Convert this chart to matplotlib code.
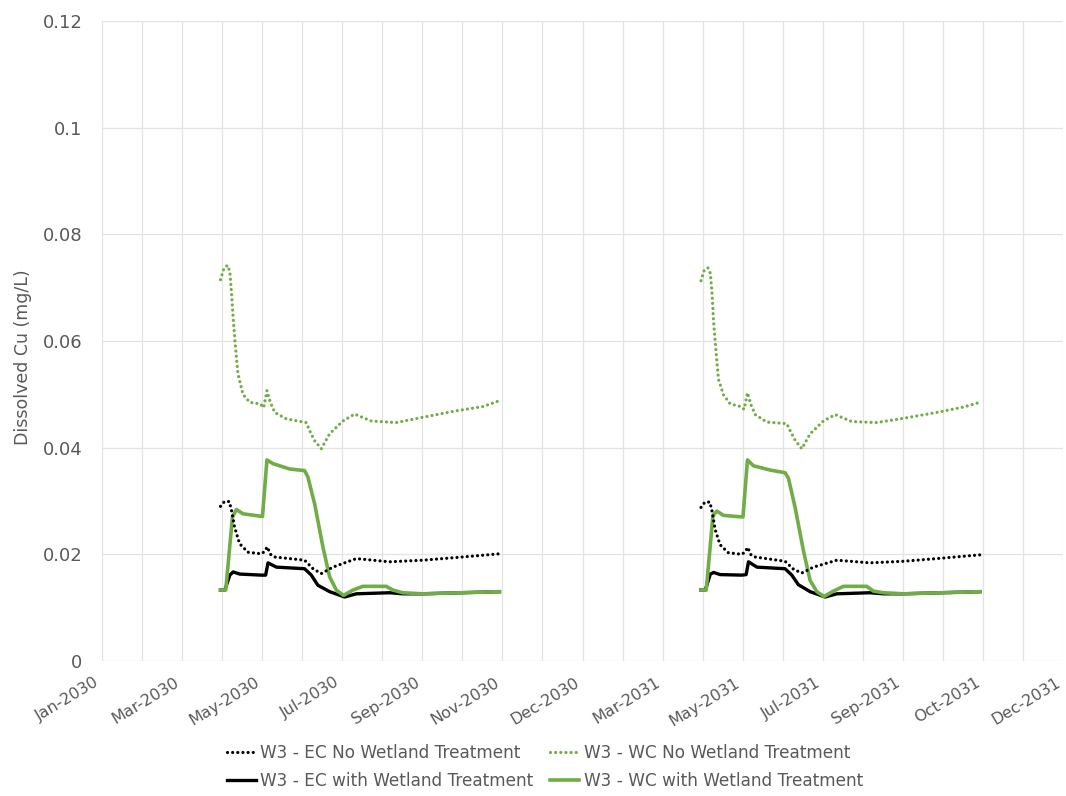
import matplotlib
matplotlib.use("Agg")
import matplotlib.pyplot as plt
from matplotlib.ticker import FixedLocator, FuncFormatter
from datetime import date
import numpy as np

# x axis: days since 1 Jan 2030, 12 equal intervals as in the Excel chart
tick_labels = ["Jan-2030", "Mar-2030", "May-2030", "Jul-2030", "Sep-2030", "Nov-2030",
               "Dec-2030", "Mar-2031", "May-2031", "Jul-2031", "Sep-2031", "Oct-2031",
               "Dec-2031"]
axis_days = 730

origin = date(2030, 1, 1)
start_2030 = (date(2030, 4, 1) - origin).days
start_2031 = (date(2031, 4, 1) - origin).days

# days after 1 April for each series, then values (mg/L) per year
ec_no_rel = [0, 3, 6.7, 8.6, 10.7, 14.5, 20.8, 30.9, 33.4, 35.5, 38, 41.2, 63.9, 70.3,
             76.6, 85.4, 103.2, 128.4, 153.7, 179, 211.9]
ec_no_2030 = [0.029, 0.0299, 0.0299, 0.028, 0.0251, 0.022, 0.0204, 0.0201, 0.0205, 0.0214,
              0.0200, 0.0195, 0.0189, 0.0173, 0.0164, 0.0176, 0.0192, 0.0186, 0.0189,
              0.0194, 0.0201]
ec_no_2031 = [0.0288, 0.0298, 0.0298, 0.0279, 0.0247, 0.0218, 0.0203, 0.0200, 0.0204, 0.0213,
              0.0199, 0.0195, 0.0187, 0.0172, 0.0165, 0.0176, 0.0189, 0.0184, 0.0187,
              0.0192, 0.0199]

wc_no_rel = [0, 2.5, 5.3, 7.1, 8.3, 9.6, 11.4, 13.3, 17.1, 22.2, 30.3, 32.8, 34, 35.3, 37.9,
             41.2, 50, 65.2, 67.7, 71.5, 76.6, 82.9, 93, 101.9, 114.5, 133.5, 153.7, 179,
             199.2, 211.9]
wc_no_2030 = [0.0715, 0.0735, 0.0742, 0.073, 0.0693, 0.0644, 0.0588, 0.0538, 0.050, 0.0485,
              0.0482, 0.0475, 0.049, 0.0507, 0.0485, 0.0466, 0.0454, 0.0447, 0.0432, 0.0413,
              0.0398, 0.0426, 0.045, 0.0463, 0.045, 0.0447, 0.0457, 0.0469, 0.0477, 0.0488]
wc_no_2031 = [0.0713, 0.0733, 0.0737, 0.0727, 0.0693, 0.0635, 0.0581, 0.0528, 0.0499, 0.0482,
              0.0477, 0.0472, 0.0487, 0.0503, 0.0481, 0.0462, 0.0448, 0.0445, 0.0432, 0.0414,
              0.0398, 0.0426, 0.045, 0.0462, 0.0449, 0.0447, 0.0455, 0.0466, 0.0476, 0.0485]

ec_with_rel = [0, 3.3, 7.1, 9.6, 14.6, 31, 34.3, 36.1, 42.5, 63.9, 69, 74, 82.9, 94.3, 103.2,
               128.4, 138.5, 153.7, 211.9]
ec_with_2030 = [0.0133, 0.0133, 0.0161, 0.0167, 0.0163, 0.0161, 0.0161, 0.0184, 0.0176, 0.0173,
                0.0161, 0.0142, 0.013, 0.012, 0.0126, 0.0128, 0.0126, 0.0126, 0.013]
ec_with_2031 = [0.0133, 0.0133, 0.0163, 0.0166, 0.0162, 0.0161, 0.0162, 0.0186, 0.0176, 0.0173,
                0.0161, 0.0143, 0.013, 0.012, 0.0126, 0.0128, 0.0126, 0.0126, 0.013]

wc_with_rel = [0, 4, 9.1, 12.1, 17.1, 31.9, 35.3, 39.9, 52.6, 63.9, 66.4, 71.5, 77.8, 82.9, 88,
               93.5, 100.6, 108.2, 125.9, 131, 138.5, 153.7, 211.9]
wc_with_2030 = [0.0133, 0.0133, 0.027, 0.0284, 0.0276, 0.0271, 0.0377, 0.037, 0.036, 0.0357,
                0.0345, 0.0295, 0.0214, 0.0158, 0.0133, 0.0123, 0.0133, 0.014, 0.014, 0.0133,
                0.0128, 0.0126, 0.013]
wc_with_2031 = [0.0133, 0.0133, 0.0273, 0.0281, 0.0273, 0.027, 0.0377, 0.0366, 0.0358, 0.0353,
                0.0343, 0.0288, 0.0207, 0.0151, 0.013, 0.0121, 0.0131, 0.014, 0.014, 0.0131,
                0.0128, 0.0126, 0.013]

GREEN = "#70AD47"
GRID = "#e3e3e3"
TXT = "#595959"

plt.rcParams["font.family"] = "DejaVu Sans"

fig = plt.figure(figsize=(10.66, 7.96), dpi=100)
ax = fig.add_axes([102 / 1066, 1 - 661 / 796, 961 / 1066, 640 / 796])


def two_years(rel, v1, v2):
    rel = np.asarray(rel)
    x = np.concatenate([start_2030 + rel, [np.nan], start_2031 + rel])
    y = np.concatenate([v1, [np.nan], v2])
    return x, y


dot = dict(linestyle=(0, (0.01, 1.6)), dash_capstyle="round", lw=2.3)

x, y = two_years(ec_with_rel, ec_with_2030, ec_with_2031)
h_ec_with, = ax.plot(x, y, color="black", lw=2.4, solid_joinstyle="round",
                     label="W3 - EC with Wetland Treatment", zorder=3)
x, y = two_years(wc_with_rel, wc_with_2030, wc_with_2031)
h_wc_with, = ax.plot(x, y, color=GREEN, lw=2.6, solid_joinstyle="round",
                     label="W3 - WC with Wetland Treatment", zorder=4)
x, y = two_years(ec_no_rel, ec_no_2030, ec_no_2031)
h_ec_no, = ax.plot(x, y, color="black", label="W3 - EC No Wetland Treatment", zorder=5, **dot)
x, y = two_years(wc_no_rel, wc_no_2030, wc_no_2031)
h_wc_no, = ax.plot(x, y, color=GREEN, label="W3 - WC No Wetland Treatment", zorder=5, **dot)

ax.set_xlim(0, axis_days)
ax.set_ylim(0, 0.12)
major = np.linspace(0, axis_days, len(tick_labels))
ax.xaxis.set_major_locator(FixedLocator(major))
ax.xaxis.set_minor_locator(FixedLocator((major[:-1] + major[1:]) / 2))
ax.set_xticklabels(tick_labels, rotation=31, ha="right", fontsize=11.5, color=TXT)
ax.set_yticks(np.arange(0, 0.121, 0.02))
ax.yaxis.set_major_formatter(FuncFormatter(lambda v, p: f"{v:g}"))
ax.tick_params(axis="y", labelsize=13, colors=TXT, length=0, pad=14)
ax.tick_params(axis="x", which="both", length=0, pad=10)

ax.grid(True, which="major", color=GRID, lw=0.9)
ax.grid(True, which="minor", axis="x", color=GRID, lw=0.9)
ax.set_axisbelow(True)
for s in ax.spines.values():
    s.set_visible(False)

ax.set_ylabel("Dissolved Cu (mg/L)", fontsize=12.5, color=TXT)
ax.yaxis.set_label_coords(-0.073, 0.475)

fig.legend(handles=[h_ec_no, h_ec_with, h_wc_no, h_wc_with], ncol=2, loc="center",
           bbox_to_anchor=(545 / 1066, 1 - 767 / 796), frameon=False, fontsize=12.2,
           handlelength=1.7, handletextpad=0.25, columnspacing=1.0, labelspacing=0.6,
           labelcolor=TXT)

fig.savefig("out.png", dpi=100, facecolor="white")
